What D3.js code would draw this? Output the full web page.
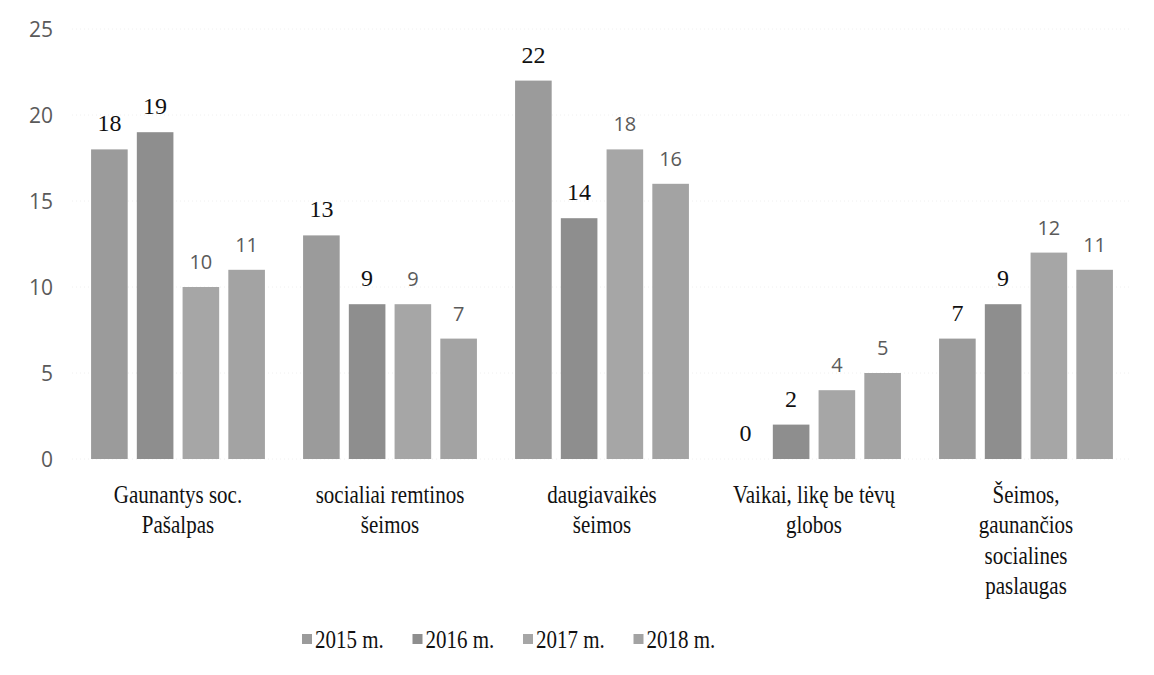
<!DOCTYPE html>
<html lang="lt">
<head>
  <meta charset="UTF-8" />
  <title>Šeimų skaičius</title>
  <script src="https://cdn.jsdelivr.net/npm/d3@7"></script>
  <style>
    body { margin: 0; background: #fff; }
    svg { display: block; }
    .ytick text { font-family: "Open Sans", sans-serif; font-size: 21px; fill: #5a5a5a; }
    .cat { font-family: "Liberation Serif", "DejaVu Serif", serif; font-size: 25px; fill: #111; }
    .lbl-serif { font-family: "Liberation Serif", serif; font-size: 24px; fill: #111; }
    .lbl-sans { font-family: "Open Sans", sans-serif; font-size: 20px; fill: #5a5a5a; }
    .legend text { font-family: "Liberation Serif", serif; font-size: 25px; fill: #111; }
  </style>
</head>
<body>
<svg width="1154" height="675"></svg>
<script>
  // chart data
  const categories = [
    ["Gaunantys soc.", "Pašalpas"],
    ["socialiai remtinos", "šeimos"],
    ["daugiavaikės", "šeimos"],
    ["Vaikai, likę be tėvų", "globos"],
    ["Šeimos,", "gaunančios", "socialines", "paslaugas"]
  ];
  const years = ["2015 m.", "2016 m.", "2017 m.", "2018 m."];
  const v2015 = [18, 13, 22, 0, 7];
  const v2016 = [19, 9, 14, 2, 9];
  const v2017 = [10, 9, 18, 4, 12];
  const v2018 = [11, 7, 16, 5, 11];
  const yTicks = [0, 5, 10, 15, 20, 25];

  const series = [v2015, v2016, v2017, v2018];
  const colors = ["#9b9b9b", "#8e8e8e", "#a6a6a6", "#a3a3a3"];

  const svg = d3.select("svg");
  const margin = { left: 72, right: 22, top: 29, bottom: 216 };
  const width = 1154, height = 675;
  const squeeze = 0.84; // serif text in the scan is narrower than it is tall

  const x0 = d3.scaleBand()
    .domain(d3.range(categories.length))
    .range([margin.left, width - margin.right])
    .paddingInner(0.18)
    .paddingOuter(0.09);

  const x1 = d3.scaleBand()
    .domain(d3.range(years.length))
    .range([0, x0.bandwidth()])
    .paddingInner(0.2);

  const y = d3.scaleLinear()
    .domain([0, 25])
    .range([height - margin.bottom, margin.top]);

  // faint gridlines
  svg.append("g")
    .selectAll("line")
    .data(yTicks)
    .join("line")
    .attr("x1", margin.left)
    .attr("x2", width - margin.right)
    .attr("y1", d => y(d))
    .attr("y2", d => y(d))
    .attr("stroke", "#f0f0f0")
    .attr("stroke-dasharray", "1,3");

  // y axis labels
  const yAxis = svg.append("g")
    .attr("transform", `translate(${margin.left - 19},0)`)
    .call(d3.axisLeft(y).tickValues(yTicks).tickSize(0).tickPadding(0));
  yAxis.select(".domain").remove();
  yAxis.selectAll(".tick").attr("class", "ytick");
  yAxis.selectAll("text").attr("dy", "0.35em");

  // bars
  const groups = svg.append("g")
    .selectAll("g")
    .data(categories)
    .join("g")
    .attr("transform", (d, i) => `translate(${x0(i)},0)`);

  groups.selectAll("rect")
    .data((d, i) => series.map((s, k) => ({ k, v: s[i] })))
    .join("rect")
    .attr("x", d => x1(d.k))
    .attr("width", x1.bandwidth())
    .attr("y", d => y(d.v))
    .attr("height", d => y(0) - y(d.v))
    .attr("fill", d => colors[d.k]);

  // value labels: first two years serif black, last two grey sans
  groups.selectAll("text.val")
    .data((d, i) => series.map((s, k) => ({ k, v: s[i] })))
    .join("text")
    .attr("class", d => "val " + (d.k < 2 ? "lbl-serif" : "lbl-sans"))
    .attr("text-anchor", "middle")
    .attr("x", d => x1(d.k) + x1.bandwidth() / 2)
    .attr("y", d => y(d.v) - 18)
    .text(d => d.v);

  // category labels
  groups.append("text")
    .attr("class", "cat")
    .attr("text-anchor", "middle")
    .attr("transform", `translate(${x0.bandwidth() / 2},503) scale(${squeeze},1)`)
    .selectAll("tspan")
    .data(d => d)
    .join("tspan")
    .attr("x", 0)
    .attr("dy", (d, i) => i === 0 ? 0 : 30.5)
    .text(d => d);

  // legend
  const legend = svg.append("g")
    .attr("class", "legend")
    .selectAll("g")
    .data(years)
    .join("g")
    .attr("transform", (d, i) => `translate(${302 + i * 110.5},640)`);

  legend.append("rect")
    .attr("x", 0)
    .attr("y", -6)
    .attr("width", 10)
    .attr("height", 10)
    .attr("fill", (d, i) => colors[i]);

  legend.append("text")
    .attr("transform", `translate(13,8) scale(${squeeze},1)`)
    .text(d => d);
</script>
</body>
</html>
